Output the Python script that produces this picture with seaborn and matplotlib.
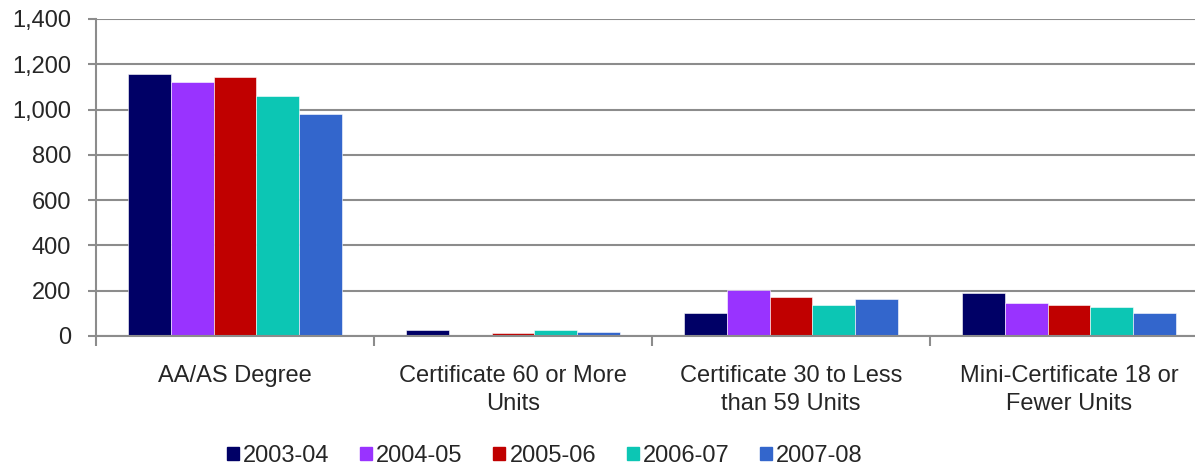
import pandas as pd
import numpy as np
import matplotlib
matplotlib.use("Agg")
import matplotlib.pyplot as plt
import seaborn as sns
from matplotlib.ticker import FuncFormatter, FixedLocator

categories = ["AA/AS Degree", "Certificate 60 or More\nUnits",
              "Certificate 30 to Less\nthan 59 Units", "Mini-Certificate 18 or\nFewer Units"]
years = ["2003-04", "2004-05", "2005-06", "2006-07", "2007-08"]
v_2003 = [1155, 27, 101, 188]
v_2004 = [1121, 0, 204, 146]
v_2005 = [1142, 13, 173, 137]
v_2006 = [1061, 28, 137, 128]
v_2007 = [981, 19, 162, 101]
colors = ["#000066", "#9933FF", "#C00000", "#0CC6B4", "#3366CC"]

rows = []
for yr, vals in zip(years, [v_2003, v_2004, v_2005, v_2006, v_2007]):
    for cat, v in zip(categories, vals):
        rows.append({"category": cat, "year": yr, "value": v})
df = pd.DataFrame(rows)

sns.set_style("white")
plt.rcParams["font.family"] = ["Liberation Sans", "DejaVu Sans"]

fig = plt.figure(figsize=(11.95, 4.7), dpi=100)
ax = fig.add_axes([96 / 1195, 134 / 470, (1208 - 96) / 1195, 317 / 470])

sns.barplot(data=df, x="category", y="value", hue="year", order=categories,
            hue_order=years, palette=colors, width=0.77, saturation=1,
            edgecolor="white", linewidth=0.4, ax=ax, legend=True)

ax.set_ylim(0, 1400)
ax.set_xlim(-0.5, 3.5)
ax.set_yticks(np.arange(0, 1401, 200))
ax.yaxis.set_major_formatter(FuncFormatter(lambda v, p: f"{int(v):,}"))
ax.yaxis.grid(True, color="#8c8c8c", linewidth=1.5)
ax.set_axisbelow(True)
ax.set_xlabel("")
ax.set_ylabel("")

for s in ["top", "right"]:
    ax.spines[s].set_visible(False)
for s in ["left", "bottom"]:
    ax.spines[s].set_color("#8c8c8c")
    ax.spines[s].set_linewidth(1.5)

ax.tick_params(axis="y", which="major", direction="out", length=6, width=1.5,
               color="#8c8c8c", labelsize=17, pad=12, left=True)
ax.tick_params(axis="x", which="major", length=0, labelsize=17, pad=21)
for lbl in ax.get_xticklabels():
    lbl.set_linespacing(1.32)
ax.xaxis.set_minor_locator(FixedLocator([-0.5, 0.5, 1.5, 2.5, 3.5]))
ax.tick_params(axis="x", which="minor", direction="out", length=7, width=1.5,
               color="#8c8c8c", bottom=True)

ax.get_legend().remove()
handles = [plt.Rectangle((0, 0), 1, 1, color=c) for c in colors]
fig.legend(handles, years, loc="center", bbox_to_anchor=(0.456, 0.03), ncol=5,
           frameon=False, fontsize=17, handlelength=0.5, handleheight=0.5,
           handletextpad=0.18, columnspacing=1.3)

fig.savefig("out.png", dpi=100)
